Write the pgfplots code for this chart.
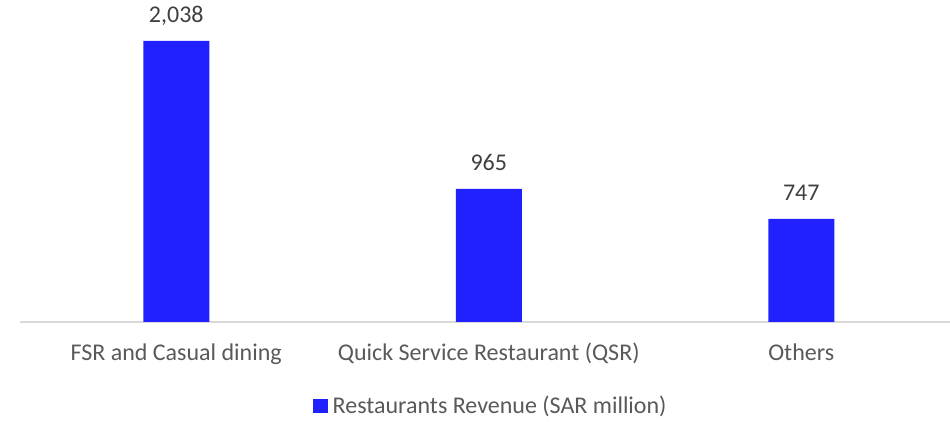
\documentclass[border=0pt]{standalone}
\usepackage{fontspec}
\setmainfont{Carlito}
\usepackage{pgfplots}
\pgfplotsset{compat=1.18}
\definecolor{barblue}{HTML}{2121FF}
\definecolor{txt}{HTML}{595959}
\definecolor{lbl}{HTML}{404040}
\definecolor{axl}{HTML}{D9D9D9}
\begin{document}
\begin{tikzpicture}
\path[use as bounding box] (0,0) rectangle (475pt,211pt);
\begin{axis}[
  at={(10pt,50pt)}, anchor=south west,
  scale only axis, width=465pt, height=161pt,
  xmin=-0.5, xmax=2.476, ymin=0, ymax=2335,
  axis x line=bottom, axis y line=none,
  axis line style={-, draw=axl, line width=0.75pt},
  xtick={0,1,2},
  xticklabels={FSR and Casual dining, Quick Service Restaurant (QSR), Others},
  major tick length=0pt,
  xticklabel style={anchor=base, yshift=-19.5pt, text=txt, font=\fontsize{12}{14}\selectfont},
  ytick=\empty,
  ybar, bar width=33pt,
  nodes near coords={\pgfmathprintnumber[assume math mode=true, 1000 sep={,}]{\pgfplotspointmeta}},
  every node near coord/.append style={anchor=base, yshift=9pt, text=lbl, font=\fontsize{12}{14}\selectfont},
  legend style={at={(0.508,-0.261)}, anchor=center, draw=none, fill=none, text=txt, font=\fontsize{12}{14}\selectfont,
    nodes={inner xsep=2.5pt}},
  legend image code/.code={\fill[barblue] (0pt,-3.6pt) rectangle (7.2pt,3.6pt);},
  clip=false,
]
\addplot[fill=barblue, draw=none] coordinates {(0,2038) (1,965) (2,747)};
\addlegendentry{Restaurants Revenue (SAR million)}
\end{axis}
\end{tikzpicture}
\end{document}
